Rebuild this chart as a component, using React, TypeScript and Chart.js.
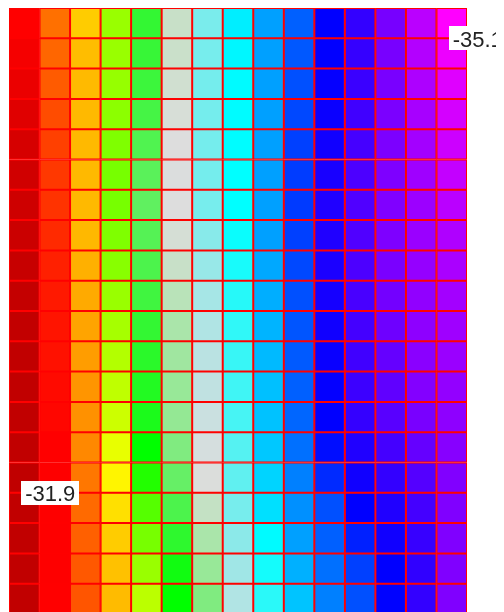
import React, { useEffect, useRef } from 'react';
import { Chart, registerables } from 'chart.js';

Chart.register(...registerables);

// Column (x) and row (y) categories of the colour grid
const columnLabels = ['1', '2', '3', '4', '5', '6', '7', '8', '9', '10', '11', '12', '13', '14', '15'];
const rowLabels = ['1', '2', '3', '4', '5', '6', '7', '8', '9', '10', '11', '12', '13', '14', '15', '16', '17', '18', '19', '20'];

// Cell values, one array per column, top row first
const col01 = [-32.1, -32.068, -32.036, -32.002, -31.97, -31.95, -31.944, -31.934, -31.922, -31.912, -31.906, -31.904, -31.904, -31.904, -31.902, -31.9, -31.902, -31.902, -31.904, -31.904];
const col02 = [-32.276, -32.26, -32.242, -32.22, -32.2, -32.188, -32.18, -32.166, -32.15, -32.14, -32.132, -32.126, -32.116, -32.11, -32.1, -32.098, -32.096, -32.096, -32.098, -32.1];
const col03 = [-32.42, -32.396, -32.392, -32.39, -32.39, -32.39, -32.39, -32.388, -32.376, -32.366, -32.358, -32.346, -32.334, -32.328, -32.314, -32.286, -32.266, -32.25, -32.238, -32.234];
const col04 = [-32.66, -32.66, -32.664, -32.68, -32.7, -32.714, -32.714, -32.7, -32.686, -32.66, -32.64, -32.62, -32.6, -32.58, -32.536, -32.484, -32.452, -32.42, -32.402, -32.394];
const col05 = [-32.992, -33.0, -33.008, -33.024, -33.044, -33.062, -33.074, -33.054, -33.038, -33.016, -32.992, -32.976, -32.962, -32.948, -32.9, -32.846, -32.766, -32.714, -32.66, -32.606];
const col06 = [-33.262, -33.266, -33.276, -33.29, -33.3, -33.304, -33.3, -33.286, -33.262, -33.234, -33.208, -33.19, -33.176, -33.168, -33.132, -33.084, -33.038, -32.984, -32.93, -32.9];
const col07 = [-33.48, -33.484, -33.488, -33.488, -33.488, -33.488, -33.484, -33.454, -33.424, -33.4, -33.382, -33.364, -33.352, -33.334, -33.314, -33.296, -33.254, -33.208, -33.176, -33.132];
const col08 = [-33.74, -33.72, -33.71, -33.706, -33.704, -33.7, -33.7, -33.682, -33.656, -33.632, -33.614, -33.598, -33.584, -33.572, -33.546, -33.526, -33.484, -33.446, -33.41, -33.38];
const col09 = [-33.924, -33.924, -33.924, -33.924, -33.924, -33.924, -33.924, -33.924, -33.904, -33.89, -33.876, -33.862, -33.848, -33.844, -33.83, -33.802, -33.772, -33.71, -33.664, -33.624];
const col10 = [-34.074, -34.092, -34.112, -34.13, -34.15, -34.16, -34.164, -34.15, -34.13, -34.112, -34.1, -34.088, -34.074, -34.06, -34.036, -34.0, -33.962, -33.924, -33.886, -33.838];
const col11 = [-34.3, -34.304, -34.316, -34.33, -34.35, -34.376, -34.4, -34.4, -34.384, -34.366, -34.35, -34.328, -34.312, -34.3, -34.27, -34.2, -34.112, -34.074, -34.036, -34.0];
const col12 = [-34.46, -34.466, -34.482, -34.5, -34.518, -34.538, -34.55, -34.55, -34.538, -34.526, -34.512, -34.5, -34.488, -34.464, -34.4, -34.35, -34.3, -34.224, -34.15, -34.112];
const col13 = [-34.672, -34.676, -34.68, -34.686, -34.69, -34.696, -34.7, -34.694, -34.682, -34.662, -34.644, -34.618, -34.6, -34.576, -34.512, -34.46, -34.4, -34.35, -34.3, -34.296];
const col14 = [-34.884, -34.862, -34.844, -34.824, -34.812, -34.8, -34.788, -34.782, -34.768, -34.756, -34.744, -34.732, -34.712, -34.68, -34.616, -34.564, -34.512, -34.474, -34.45, -34.46];
const col15 = [-35.1, -35.044, -35.0, -34.966, -34.94, -34.912, -34.884, -34.85, -34.832, -34.812, -34.8, -34.782, -34.762, -34.744, -34.724, -34.706, -34.7, -34.7, -34.7, -34.7];

const columnValues = [col01, col02, col03, col04, col05, col06, col07, col08, col09, col10, col11, col12, col13, col14, col15];

// Palette: value -> colour (linear between stops)
const paletteValues = [-35.1, -34.3, -33.7, -33.3, -32.9, -32.5, -32.1, -31.9];
const paletteColors = ['#ff00ff', '#0000ff', '#00ffff', '#dddddd', '#00ff00', '#ffff00', '#ff0000', '#c00000'];

function hexToRgb(h: string): number[] {
  const n = parseInt(h.slice(1), 16);
  return [(n >> 16) & 255, (n >> 8) & 255, n & 255];
}

function colorFor(v: number): string {
  if (v <= paletteValues[0]) return paletteColors[0];
  for (let i = 1; i < paletteValues.length; i++) {
    if (v <= paletteValues[i]) {
      const t = (v - paletteValues[i - 1]) / (paletteValues[i] - paletteValues[i - 1]);
      const a = hexToRgb(paletteColors[i - 1]);
      const b = hexToRgb(paletteColors[i]);
      const c = a.map((x, k) => Math.round(x + (b[k] - x) * t));
      return `rgb(${c[0]},${c[1]},${c[2]})`;
    }
  }
  return paletteColors[paletteColors.length - 1];
}

const extremeLabels = {
  id: 'extremeLabels',
  afterDatasetsDraw(chart: any) {
    let min = { v: Infinity, c: 0, r: 0 };
    let max = { v: -Infinity, c: 0, r: 0 };
    columnValues.forEach((col, c) =>
      col.forEach((v, r) => {
        if (v < min.v) min = { v, c, r };
        if (v > max.v) max = { v, c, r };
      })
    );
    const ctx = chart.ctx;
    ctx.save();
    [max, min].forEach((p) => {
      const el: any = chart.getDatasetMeta(p.r).data[p.c];
      const cx = el.x + 26;
      const cy = Math.max(el.y, el.base);
      const text = p.v.toFixed(1);
      ctx.font = '22px "Liberation Sans", Arial, sans-serif';
      const w = ctx.measureText(text).width;
      ctx.fillStyle = '#ffffff';
      ctx.fillRect(Math.round(cx - w / 2 - 4), Math.round(cy - 12), Math.round(w + 8), 24);
      ctx.fillStyle = '#222222';
      ctx.textAlign = 'center';
      ctx.textBaseline = 'alphabetic';
      ctx.fillText(text, cx, cy + 8.5);
    });
    ctx.restore();
  },
};

export default function App() {
  const ref = useRef<HTMLCanvasElement | null>(null);

  useEffect(() => {
    document.documentElement.style.overflow = 'hidden';
    const canvas = ref.current;
    if (!canvas) return;
    const datasets = rowLabels.map((lab, r) => ({
      label: 'Row ' + lab,
      data: columnLabels.map(() => 1),
      backgroundColor: columnValues.map((col) => colorFor(col[r])),
      borderColor: '#ff0000',
      borderWidth: 1.35,
      borderSkipped: false as const,
      inflateAmount: 0.35,
      barPercentage: 1,
      categoryPercentage: 1,
    }));
    const chart = new Chart(canvas, {
      type: 'bar',
      data: { labels: columnLabels, datasets },
      options: {
        animation: false,
        responsive: false,
        layout: { padding: { left: 1, right: 37, top: 0, bottom: 0 } },
        plugins: { legend: { display: false }, tooltip: { enabled: false } },
        scales: {
          x: { display: false, stacked: true },
          y: { display: false, stacked: true, min: 0, max: 20, reverse: true },
        },
      },
      plugins: [extremeLabels],
    });
    return () => chart.destroy();
  }, []);

  return (
    <div style={{ width: 496, height: 606 }}>
      <canvas ref={ref} width={496} height={606} style={{ display: 'block' }} />
    </div>
  );
}
